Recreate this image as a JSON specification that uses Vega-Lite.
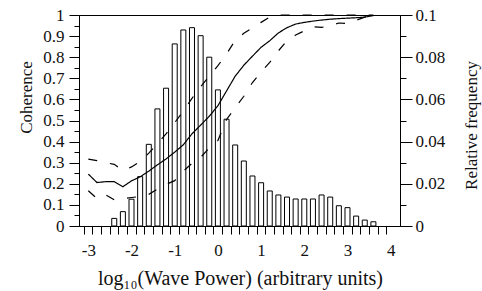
{
  "$schema": "https://vega.github.io/schema/vega-lite/v6.json",
  "width": 321,
  "height": 211,
  "autosize": {"type": "none"},
  "padding": {"left": 79, "top": 15, "right": 82, "bottom": 65},
  "config": {
    "font": "Liberation Serif",
    "view": {"stroke": "black", "strokeWidth": 1},
    "axis": {"domainColor": "black", "tickColor": "black", "labelColor": "#111", "titleColor": "#111", "titleFontWeight": "normal", "grid": false, "domainWidth": 1, "tickWidth": 1}
  },
  "datasets": {
    "hist": [
      {"power": -2.4, "freq": 0.0036},
      {"power": -2.2, "freq": 0.0068},
      {"power": -2.0, "freq": 0.0127},
      {"power": -1.8, "freq": 0.0234},
      {"power": -1.6, "freq": 0.0387},
      {"power": -1.4, "freq": 0.0555},
      {"power": -1.2, "freq": 0.0653},
      {"power": -1.0, "freq": 0.0863},
      {"power": -0.8, "freq": 0.0929},
      {"power": -0.6, "freq": 0.094},
      {"power": -0.4, "freq": 0.0902},
      {"power": -0.2, "freq": 0.08},
      {"power": 0.0, "freq": 0.0645},
      {"power": 0.2, "freq": 0.0506},
      {"power": 0.4, "freq": 0.0384},
      {"power": 0.6, "freq": 0.0308},
      {"power": 0.8, "freq": 0.0237},
      {"power": 1.0, "freq": 0.0205},
      {"power": 1.2, "freq": 0.0166},
      {"power": 1.4, "freq": 0.0147},
      {"power": 1.6, "freq": 0.0137},
      {"power": 1.8, "freq": 0.0128},
      {"power": 2.0, "freq": 0.0128},
      {"power": 2.2, "freq": 0.0128},
      {"power": 2.4, "freq": 0.0147},
      {"power": 2.6, "freq": 0.0137},
      {"power": 2.8, "freq": 0.0096},
      {"power": 3.0, "freq": 0.0087},
      {"power": 3.2, "freq": 0.0047},
      {"power": 3.4, "freq": 0.0028},
      {"power": 3.6, "freq": 0.002}
    ],
    "coh": [
      {"power": -3.0, "mean": 0.246, "lower": 0.167, "upper": 0.317},
      {"power": -2.8, "mean": 0.206, "lower": 0.13, "upper": 0.31},
      {"power": -2.6, "mean": 0.21, "lower": 0.148, "upper": 0.3},
      {"power": -2.4, "mean": 0.21, "lower": 0.124, "upper": 0.292},
      {"power": -2.2, "mean": 0.186, "lower": 0.13, "upper": 0.262},
      {"power": -2.0, "mean": 0.214, "lower": 0.135, "upper": 0.28},
      {"power": -1.8, "mean": 0.233, "lower": 0.14, "upper": 0.305},
      {"power": -1.6, "mean": 0.26, "lower": 0.15, "upper": 0.345},
      {"power": -1.4, "mean": 0.29, "lower": 0.175, "upper": 0.39},
      {"power": -1.2, "mean": 0.318, "lower": 0.197, "upper": 0.437},
      {"power": -1.0, "mean": 0.35, "lower": 0.215, "upper": 0.49},
      {"power": -0.8, "mean": 0.385, "lower": 0.26, "upper": 0.545},
      {"power": -0.6, "mean": 0.437, "lower": 0.297, "upper": 0.605},
      {"power": -0.4, "mean": 0.478, "lower": 0.325, "upper": 0.66},
      {"power": -0.2, "mean": 0.52, "lower": 0.37, "upper": 0.71},
      {"power": 0.0, "mean": 0.57, "lower": 0.405, "upper": 0.76},
      {"power": 0.2, "mean": 0.64, "lower": 0.505, "upper": 0.815},
      {"power": 0.4, "mean": 0.71, "lower": 0.56, "upper": 0.88},
      {"power": 0.6, "mean": 0.762, "lower": 0.615, "upper": 0.913},
      {"power": 0.8, "mean": 0.805, "lower": 0.68, "upper": 0.94},
      {"power": 1.0, "mean": 0.847, "lower": 0.73, "upper": 0.965},
      {"power": 1.2, "mean": 0.878, "lower": 0.775, "upper": 0.99},
      {"power": 1.4, "mean": 0.915, "lower": 0.83, "upper": 1.0},
      {"power": 1.6, "mean": 0.94, "lower": 0.878, "upper": 1.0},
      {"power": 1.8, "mean": 0.957, "lower": 0.905, "upper": 1.0},
      {"power": 2.0, "mean": 0.965, "lower": 0.925, "upper": 1.0},
      {"power": 2.2, "mean": 0.971, "lower": 0.944, "upper": 1.0},
      {"power": 2.4, "mean": 0.976, "lower": 0.941, "upper": 1.0},
      {"power": 2.6, "mean": 0.98, "lower": 0.95, "upper": 1.0},
      {"power": 2.8, "mean": 0.983, "lower": 0.962, "upper": 1.0},
      {"power": 3.0, "mean": 0.985, "lower": 0.96, "upper": 1.0},
      {"power": 3.2, "mean": 0.987, "lower": 0.975, "upper": 1.0},
      {"power": 3.4, "mean": 0.99, "lower": 0.99, "upper": 1.0},
      {"power": 3.6, "mean": 0.997, "lower": 0.997, "upper": 1.0}
    ]
  },
  "encoding": {
    "x": {
      "field": "power", "type": "quantitative",
      "scale": {"domain": [-3.1, 4.1], "nice": false, "zero": false},
      "axis": {
        "title": "log₁₀(Wave Power) (arbitrary units)",
        "titleFontSize": 20, "titleX": 161, "titleY": 58, "titleBaseline": "alphabetic", "titleAlign": "center",
        "values": [-3, -2.8, -2.6, -2.4, -2.2, -2, -1.8, -1.6, -1.4, -1.2, -1, -0.8, -0.6, -0.4, -0.2, 0, 0.2, 0.4, 0.6, 0.8, 1, 1.2, 1.4, 1.6, 1.8, 2, 2.2, 2.4, 2.6, 2.8, 3, 3.2, 3.4, 3.6, 3.8, 4],
        "labelExpr": "abs(datum.value - round(datum.value)) < 0.01 ? '' + round(datum.value) : ''",
        "tickOffset": -4.46, "labelOffset": 4.46,
        "labelOverlap": false,
        "labelFontSize": 17, "labelPadding": 8, "tickSize": 8
      }
    }
  },
  "layer": [
    {
      "data": {"name": "hist"},
      "mark": {"type": "bar", "fill": "white", "stroke": "black", "strokeWidth": 1, "size": 5},
      "encoding": {
        "y": {
          "field": "freq", "type": "quantitative",
          "scale": {"domain": [0, 0.1], "nice": false},
          "axis": {
            "orient": "right", "title": "Relative frequency", "titleAngle": 270, "titleFontSize": 17,
            "titleX": 71, "titleY": 110, "titleBaseline": "middle", "titleAlign": "center",
            "values": [0, 0.01, 0.02, 0.03, 0.04, 0.05, 0.06, 0.07, 0.08, 0.09, 0.1],
            "format": ".2~f",
            "labelExpr": "abs(datum.value * 50 - round(datum.value * 50)) < 0.001 ? datum.label : ''",
            "tickSize": {"condition": {"test": "abs(datum.value * 50 - round(datum.value * 50)) < 0.001", "value": 12}, "value": 6},
            "labelFontSize": 17, "labelPadding": 3, "labelOverlap": false, "labelFlush": false, "labelBaseline": "middle"
          }
        }
      }
    },
    {
      "data": {"name": "coh"},
      "transform": [{"fold": ["mean", "lower", "upper"], "as": ["series", "value"]}],
      "mark": {"type": "line", "stroke": "black", "strokeWidth": 1.2},
      "encoding": {
        "y": {
          "field": "value", "type": "quantitative",
          "scale": {"domain": [0, 1], "nice": false},
          "axis": {
            "orient": "left", "title": "Coherence", "titleAngle": 270, "titleFontSize": 17,
            "titleX": -53, "titleY": 82, "titleBaseline": "middle", "titleAlign": "center",
            "values": [0, 0.05, 0.1, 0.15, 0.2, 0.25, 0.3, 0.35, 0.4, 0.45, 0.5, 0.55, 0.6, 0.65, 0.7, 0.75, 0.8, 0.85, 0.9, 0.95, 1],
            "format": ".2~f",
            "labelExpr": "abs(datum.value * 10 - round(datum.value * 10)) < 0.001 ? datum.label : ''",
            "tickSize": {"condition": {"test": "abs(datum.value * 10 - round(datum.value * 10)) < 0.001", "value": 10}, "value": 5},
            "labelFontSize": 17, "labelPadding": 5, "labelOverlap": false, "labelFlush": false, "labelBaseline": "middle"
          }
        },
        "strokeDash": {
          "field": "series", "type": "nominal",
          "scale": {"domain": ["mean", "lower", "upper"], "range": [[1, 0], [9, 13], [9, 13]]},
          "legend": null
        }
      }
    }
  ],
  "resolve": {"scale": {"y": "independent"}}
}
